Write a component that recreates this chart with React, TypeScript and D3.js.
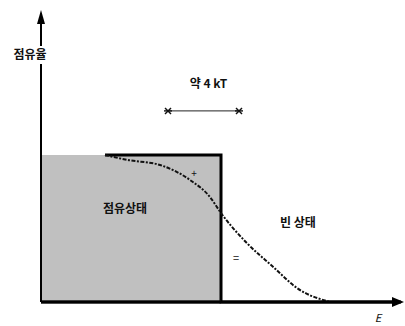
import React from "react";
import * as d3 from "d3";

// Energy (in kT, relative to the Fermi level) and occupation probability f(E)
const energies = [-5.8, -4.65, -3.05, -1.55, -0.55, 0.0, 1.3, 2.6, 3.8, 5.45];
const occupancy = [1.0, 0.966, 0.932, 0.83, 0.714, 0.605, 0.4, 0.24, 0.095, 0.0];

// Zero-temperature step: fully occupied below E_F, empty above
const stepEnergies = [-5.8, 0, 0, 9];
const stepValues = [1, 1, 0, 0];

// Span of the thermal smearing marked by the double arrow
const spreadRange = [-2.65, 0.9];
const spreadLevel = 1.3;

const labels = {
  yAxis: "점유율",
  xAxis: "E",
  spread: "약 4 kT",
  occupied: "점유상태",
  empty: "빈 상태",
  plus: "+",
  minus: "=",
};

const W = 405;
const H = 326;

export default function App() {
  const x = d3.scaleLinear().domain([-9, 9]).range([41, 401]);
  const y = d3.scaleLinear().domain([0, 1]).range([302, 155]);

  const curve = d3
    .line<number>()
    .x((_, i) => x(energies[i]))
    .y((d) => y(d))
    .curve(d3.curveMonotoneX)(occupancy) as string;

  const step = d3
    .line<number>()
    .x((_, i) => x(stepEnergies[i]))
    .y((d) => y(d))(stepValues) as string;

  const area = d3
    .area<number>()
    .x((d) => x(d))
    .y0(y(0))
    .y1(y(1))([-9, 0]) as string;

  const font = "'Noto Sans CJK KR', 'Noto Sans', sans-serif";
  const x0 = x(-9);
  const yBase = y(0);
  const ax1 = x(spreadRange[0]);
  const ax2 = x(spreadRange[1]);
  const ay = y(spreadLevel);

  const star = (cx: number, cy: number) => (
    <g stroke="#111" strokeWidth={1.4}>
      <line x1={cx - 3} y1={cy - 3} x2={cx + 3} y2={cy + 3} />
      <line x1={cx - 3} y1={cy + 3} x2={cx + 3} y2={cy - 3} />
      <line x1={cx - 4} y1={cy} x2={cx + 4} y2={cy} />
    </g>
  );

  return (
    <svg
      width={W}
      height={H}
      style={{ position: "absolute", left: 0, top: 0, background: "#fff" }}
    >
      {/* occupied region below the Fermi level */}
      <path d={area} fill="#c0c0c0" />

      {/* T = 0 step function */}
      <path d={step} fill="none" stroke="#000" strokeWidth={3} />
      <line x1={x0} y1={yBase} x2={x(0)} y2={yBase} stroke="#333" strokeWidth={3} />

      {/* finite-temperature distribution */}
      <path
        d={curve}
        fill="none"
        stroke="#111"
        strokeWidth={2}
        strokeDasharray="4 1.5 2 1.5"
      />

      {/* axes */}
      <line x1={x0} y1={yBase} x2={x0} y2={16} stroke="#000" strokeWidth={2} />
      <path d={`M${x0 - 4},${24} L${x0},${10} L${x0 + 4},${24} Z`} fill="#000" />
      <line x1={x0} y1={yBase} x2={398} y2={yBase} stroke="#000" strokeWidth={3} />
      <path d={`M${392},${yBase - 5} L${404},${yBase} L${392},${yBase + 5} Z`} fill="#000" />

      {/* y-axis label on a white patch */}
      <rect x={8} y={46} width={46} height={18} fill="#fff" />
      <text x={30} y={59} textAnchor="middle" fontSize={12} fontWeight={700} fontFamily={font} fill="#111">
        {labels.yAxis}
      </text>
      <text x={378} y={322} textAnchor="middle" fontSize={11} fontStyle="italic" fontFamily={font} fill="#111">
        {labels.xAxis}
      </text>

      {/* smearing width */}
      <text x={(ax1 + ax2) / 2 + 5} y={88} textAnchor="middle" fontSize={12} fontWeight={700} fontFamily={font} fill="#111">
        {labels.spread}
      </text>
      <line x1={ax1} y1={ay} x2={ax2} y2={ay} stroke="#222" strokeWidth={1} />
      {star(ax1, ay)}
      {star(ax2, ay)}

      {/* region labels */}
      <text x={125} y={213} textAnchor="middle" fontSize={12} fontWeight={700} fontFamily={font} fill="#111">
        {labels.occupied}
      </text>
      <text x={298} y={227} textAnchor="middle" fontSize={12} fontWeight={700} fontFamily={font} fill="#111">
        {labels.empty}
      </text>
      <text x={194} y={177} textAnchor="middle" fontSize={10} fontFamily={font} fill="#111">
        {labels.plus}
      </text>
      <text x={236} y={262} textAnchor="middle" fontSize={11} fontFamily={font} fill="#111">
        {labels.minus}
      </text>
    </svg>
  );
}
